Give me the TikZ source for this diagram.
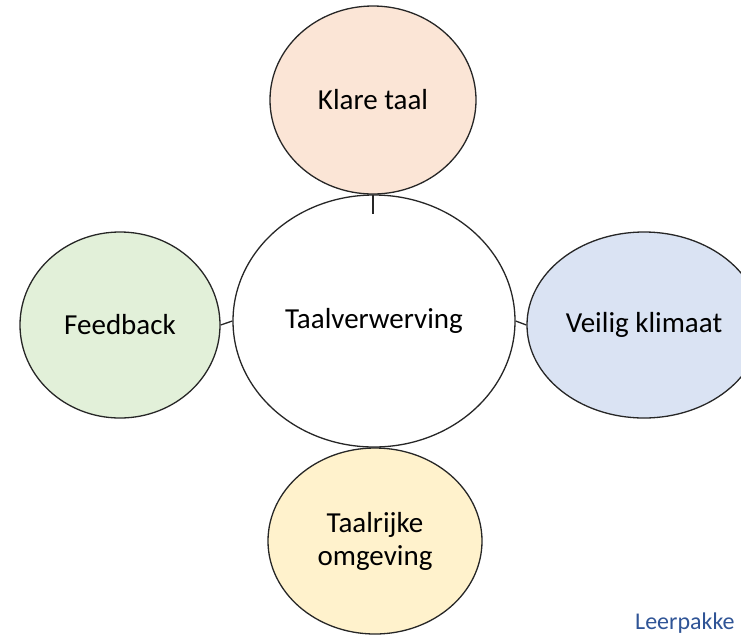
\documentclass[tikz,border=0pt]{standalone}
\usepackage{fontspec}
\setmainfont{Carlito}
\usetikzlibrary{shapes.geometric}
\definecolor{peach}{HTML}{FBE5D6}
\definecolor{lgreen}{HTML}{E2F0D9}
\definecolor{lblue}{HTML}{DAE3F3}
\definecolor{lyellow}{HTML}{FFF2CC}
\definecolor{edge}{HTML}{262626}
\definecolor{footblue}{HTML}{2F5496}
\tikzset{
  bubble/.style={ellipse, draw=edge, line width=1.3pt, inner sep=0pt, align=center,
    font=\fontsize{29}{33}\selectfont, text=black},
  link/.style={draw=edge, line width=1.3pt},
}
\begin{document}
\begin{tikzpicture}[x=1pt,y=-1pt]
\useasboundingbox (0,0) rectangle (741,635);
\clip (0,0) rectangle (741,635);
\node[bubble, fill=white, minimum width=282, minimum height=252] (c) at (374,321) {Taalverwerving};
\node[bubble, fill=peach, minimum width=206, minimum height=188] (t) at (373,100) {Klare taal};
\node[bubble, fill=lgreen, minimum width=200, minimum height=186] (l) at (120,325) {Feedback};
\node[bubble, fill=lblue, minimum width=234, minimum height=186] (r) at (644,325) {Veilig klimaat};
\node[bubble, fill=lyellow, minimum width=214, minimum height=186] (b) at (375,541) {Taalrijke\\omgeving};
\coordinate (tend) at (373,214);
\draw[link] (t.south) -- (tend);
\draw[link] (l.east) -- (c.west);
\draw[link] (c.east) -- (r.west);
\node[anchor=base west, inner sep=0pt, text=footblue, font=\fontsize{24}{29}\selectfont] (foot) at (635,629) {Leerpakke};
\end{tikzpicture}
\end{document}
